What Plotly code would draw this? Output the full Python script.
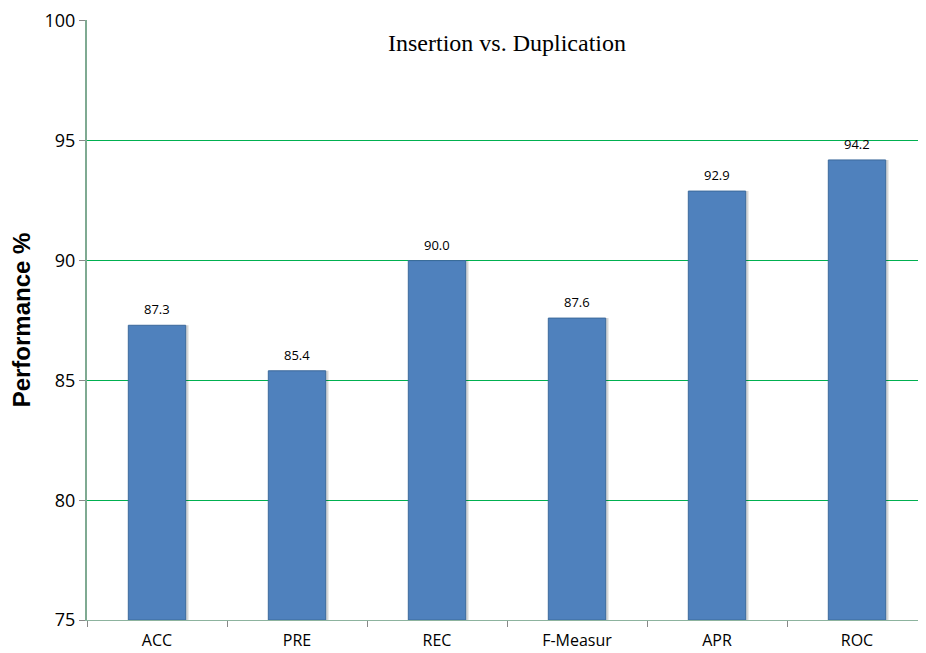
import plotly.graph_objects as go

categories = ["ACC", "PRE", "REC", "F-Measur", "APR", "ROC"]
values = [87.3, 85.4, 90.0, 87.6, 92.9, 94.2]
labels = ["87.3", "85.4", "90.0", "87.6", "92.9", "94.2"]
y_ticks = [75, 80, 85, 90, 95, 100]
y_min = 75

fig = go.Figure()

# soft shadow behind bars (same heights, shifted slightly right)
fig.add_trace(go.Bar(
    x=categories, y=[v - y_min for v in values], base=y_min,
    width=0.41, offset=-0.185,
    marker=dict(color="rgba(0,0,0,0.16)", line=dict(width=0)),
    hoverinfo="skip", showlegend=False,
))
fig.add_trace(go.Bar(
    x=categories, y=[v - y_min for v in values], base=y_min,
    width=0.41, offset=-0.205,
    marker=dict(color="#4F81BD", line=dict(color="#3C6A9C", width=1)),
    showlegend=False,
))

for c, v, t in zip(categories, values, labels):
    fig.add_annotation(x=c, y=v, text=t, showarrow=False, yshift=16,
                       font=dict(family="Open Sans, Liberation Sans, sans-serif", size=13, color="#000"))

fig.add_annotation(text="Insertion vs. Duplication", xref="paper", yref="paper",
                   x=0.5, y=0.962, yanchor="middle", showarrow=False,
                   font=dict(family="Liberation Serif, serif", size=24, color="#000"))

fig.update_layout(
    width=926, height=653,
    margin=dict(l=79, r=7, t=12, b=41, autoexpand=False),
    paper_bgcolor="white", plot_bgcolor="white",
    barmode="overlay",
    xaxis=dict(
        type="category", showgrid=False, automargin=False,
        showline=True, linecolor="#8DB39E", linewidth=1,
        ticks="outside", tickson="boundaries", ticklen=6, tickcolor="#888",
        ticklabelstandoff=6,
        tickfont=dict(family="Open Sans, Liberation Sans, sans-serif", size=16, color="#000"),
        range=[-0.5, 5.5],
    ),
    yaxis=dict(
        range=[75, 100.04], tickvals=y_ticks, automargin=False,
        ticklabeloverflow="allow",
        showgrid=True, gridcolor="#00B050", gridwidth=1,
        showline=True, linecolor="#7FAA92", linewidth=2,
        ticks="outside", ticklen=6, tickcolor="#888",
        tickfont=dict(family="Open Sans, Liberation Sans, sans-serif", size=18, color="#000"),
        title=dict(text="<b>Performance %</b>", standoff=16,
                   font=dict(family="Liberation Sans, Arial, sans-serif", size=24, color="#000")),
        zeroline=False,
    ),
)

fig.write_html("out.html")
